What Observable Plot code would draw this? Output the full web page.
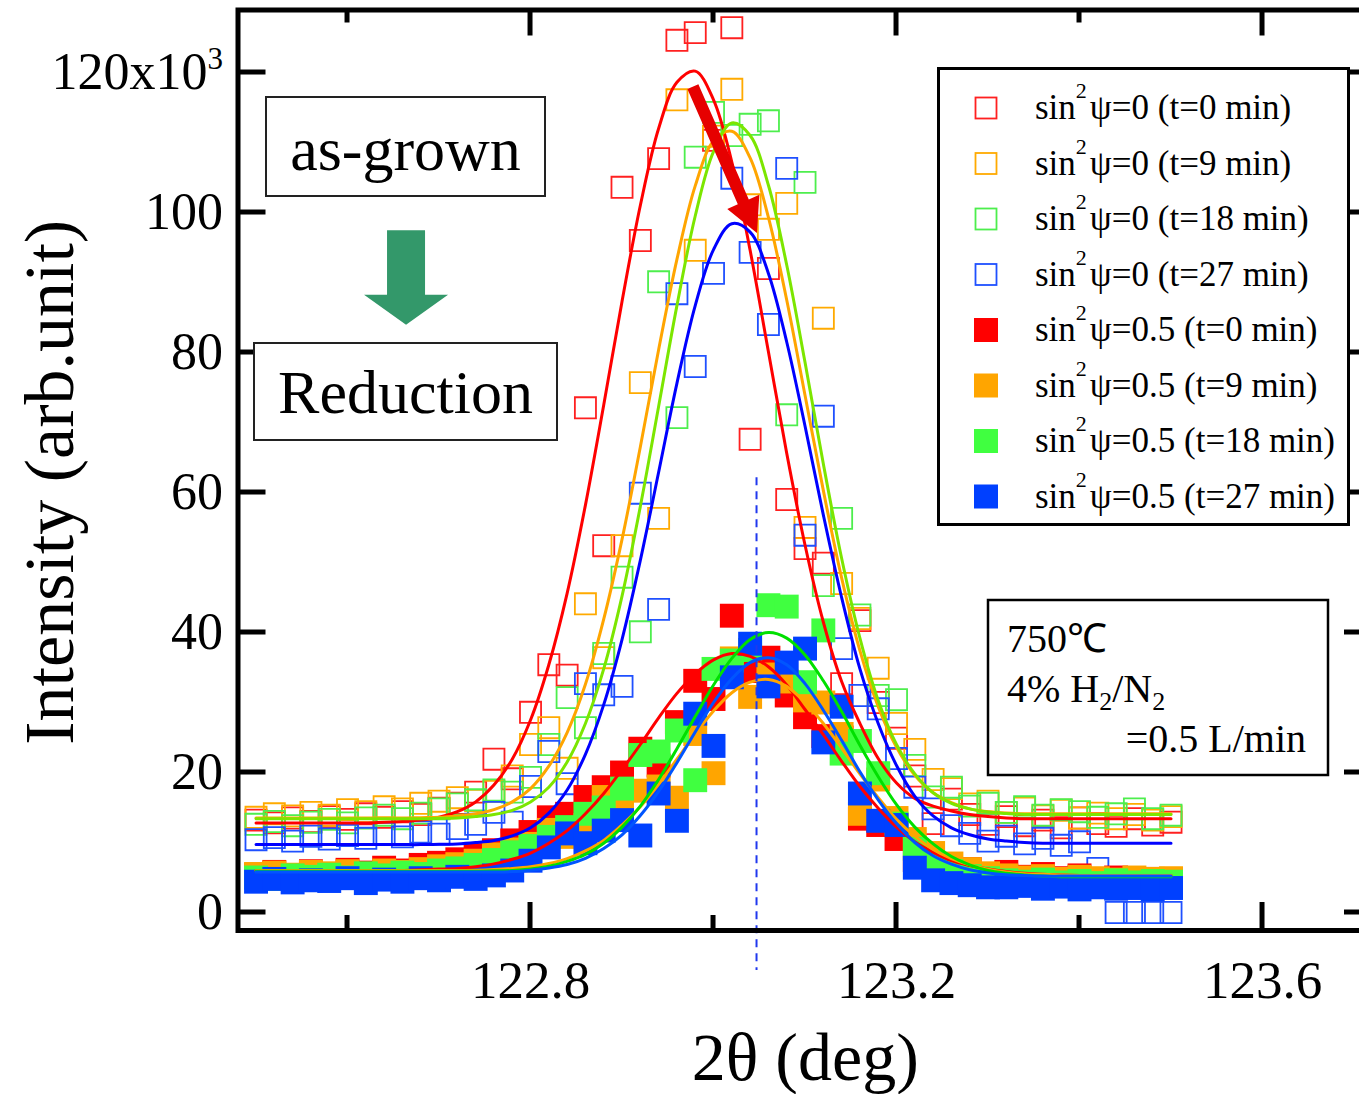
<!DOCTYPE html>
<html>
<head>
<meta charset="utf-8">
<script src="https://cdn.jsdelivr.net/npm/d3@7"></script>
<script src="https://cdn.jsdelivr.net/npm/@observablehq/plot@0.6"></script>
<style>
  html, body { margin: 0; padding: 0; background: #fff; overflow: hidden; }
  #wrap { position: relative; width: 1359px; height: 1094px; overflow: hidden; }
  #wrap svg { display: block; max-width: none; }
</style>
</head>
<body>
<div id="wrap"></div>
<script>
// ---------- data ----------
const twoTheta = [122.50,122.52,122.54,122.56,122.58,122.60,122.62,122.64,122.66,122.68,122.70,122.72,122.74,122.76,122.78,122.80,122.82,122.84,122.86,122.88,122.90,122.92,122.94,122.96,122.98,123.00,123.02,123.04,123.06,123.08,123.10,123.12,123.14,123.16,123.18,123.20,123.22,123.24,123.26,123.28,123.30,123.32,123.34,123.36,123.38,123.40,123.42,123.44,123.46,123.48,123.50];

// measured intensities (x10^3), sin^2 psi = 0
const openRed0 = [13.2,12.8,13.5,13.0,13.7,13.3,14.1,13.6,14.4,14.0,14.9,15.6,17.2,21.9,19.1,28.6,35.4,33.9,72.1,52.4,103.6,96.0,107.7,124.6,125.7,110.3,126.4,67.6,92.0,59.0,52.0,49.9,32.7,41.7,30.0,24.9,19.5,12.7,16.2,14.0,12.6,13.7,12.4,13.2,12.1,13.5,12.7,12.3,13.4,12.5,12.9];
const openOrange9 = [13.6,14.1,13.8,14.3,13.9,14.7,14.4,15.1,14.8,15.6,15.9,16.4,16.0,17.3,19.5,24.0,26.4,20.6,44.1,36.4,52.4,75.7,56.3,116.1,94.6,110.9,117.6,101.1,97.6,101.3,55.0,84.9,47.0,42.0,34.9,27.0,23.3,19.0,17.7,15.5,15.9,14.3,14.9,13.8,14.6,13.5,14.2,13.4,14.0,13.2,13.7];
const openGreen18 = [12.6,13.0,12.4,12.9,13.3,12.8,13.5,13.9,13.4,14.2,14.8,15.5,16.1,17.5,17.2,19.3,24.0,30.7,26.4,37.0,47.9,40.1,90.1,70.7,107.9,114.3,111.0,112.6,113.1,71.1,104.3,46.7,56.3,42.5,31.0,30.4,21.0,16.5,17.9,15.2,15.6,14.3,15.1,13.9,14.7,14.4,13.6,14.1,14.8,13.4,13.9];
const openBlue27 = [10.4,10.7,10.2,10.9,10.5,11.0,10.6,11.3,10.8,11.5,11.2,12.0,12.6,14.3,12.9,18.0,23.0,18.4,32.7,31.1,32.3,59.9,43.3,88.4,78.0,91.3,104.9,94.3,84.0,106.3,53.9,70.9,37.7,31.0,29.1,22.0,17.9,14.8,12.4,11.3,10.2,10.9,9.8,10.6,9.6,10.1,6.3,0,0,0,0];
// sin^2 psi = 0.5
const filledRed0 = [5.4,5.8,5.2,5.9,5.5,6.1,5.7,6.4,6.0,6.8,7.1,7.6,8.2,8.9,10.3,11.5,13.6,14.1,16.5,17.9,20.0,23.4,21.0,27.2,33.1,30.5,42.4,34.5,36.4,31.0,27.9,25.2,25.0,13.4,12.5,10.5,7.5,6.8,5.9,6.2,5.4,5.8,5.1,5.5,4.9,5.3,4.6,5.0,4.5,4.8,4.4];
const filledOrange9 = [5.5,5.7,5.4,5.8,5.6,5.9,5.5,6.0,5.8,6.2,6.6,6.9,7.4,8.3,9.0,9.8,11.8,10.8,12.5,16.5,15.0,17.4,18.0,16.4,25.5,19.9,36.3,30.8,34.0,33.0,30.3,30.0,25.5,14.1,19.0,13.5,10.5,8.5,7.0,6.2,5.6,5.3,5.0,5.2,4.8,5.1,4.9,4.7,5.0,4.8,4.9];
const filledGreen18 = [5.0,4.8,5.3,5.1,5.4,5.0,5.6,5.3,5.7,5.5,6.0,6.3,6.8,7.5,8.6,9.5,10.8,12.2,14.1,15.0,17.7,22.5,23.0,26.0,18.9,34.8,36.0,37.5,43.9,43.7,32.9,40.3,22.7,24.5,19.9,12.7,9.1,7.2,5.9,5.2,4.9,4.6,4.4,4.7,4.3,4.5,4.2,4.6,4.3,4.5,4.4];
const filledBlue27 = [4.4,4.8,4.3,4.6,4.5,4.9,4.2,4.7,4.4,4.9,4.6,5.1,4.8,5.3,6.0,7.4,9.3,11.3,9.9,11.7,13.2,11.0,17.0,13.1,28.4,23.8,33.6,38.4,32.3,35.7,37.7,24.3,29.4,17.0,13.1,12.5,6.4,4.6,4.2,3.9,3.6,3.6,3.8,3.4,3.7,3.3,3.6,3.4,3.5,3.3,3.5];

// fitted profiles (same 2theta grid)
const fitOpenRed0 = [12.8,12.8,12.8,12.8,12.8,12.8,12.8,12.9,13.0,13.2,13.6,14.4,15.8,18.2,21.9,27.5,35.4,45.6,58.2,72.5,87.3,101.0,112.0,118.6,120.2,116.1,107.2,94.6,80.1,65.6,52.5,41.5,33.0,27.0,22.0,18.5,16.3,15.2,14.5,14.0,13.7,13.5,13.4,13.4,13.4,13.4,13.4,13.4,13.4,13.4,13.4];
const fitOpenOrange9 = [13.5,13.5,13.5,13.5,13.5,13.5,13.5,13.5,13.5,13.55,13.6,13.8,14.1,14.7,15.8,17.7,20.9,25.7,32.6,41.9,53.3,66.5,80.4,93.3,103.8,110.2,111.6,107.8,99.3,87.5,73.9,60.3,47.8,37.4,29.4,23.6,19.6,17.1,15.7,14.8,14.4,14.2,14.1,14.1,14.1,14.1,14.1,14.1,14.1,14.1,14.1];
const fitOpenGreen18 = [13.4,13.4,13.4,13.4,13.4,13.4,13.4,13.4,13.4,13.4,13.45,13.5,13.7,14.0,14.6,15.8,17.9,21.5,27.0,34.8,45.2,58.0,72.3,86.7,99.5,108.7,112.8,111.0,103.9,92.5,78.6,64.1,50.6,39.2,30.3,24.0,19.8,17.1,15.6,14.8,14.35,14.15,14.0,14.0,14.0,14.0,14.0,14.0,14.0,14.0,14.0];
const fitOpenBlue27 = [9.7,9.7,9.7,9.7,9.7,9.7,9.7,9.7,9.7,9.7,9.75,9.8,10.0,10.3,10.95,12.1,14.2,17.5,22.6,29.7,39.0,50.3,62.9,75.6,86.7,94.7,98.4,97.2,91.3,81.5,69.5,56.8,45.0,34.8,27.0,21.0,16.6,13.8,12.1,11.1,10.5,10.2,10.0,9.9,9.9,9.9,9.9,9.9,9.9,9.9,9.9];
const fitFilledRed0 = [6.0,6.0,6.0,6.0,6.0,6.0,6.0,6.0,6.0,6.1,6.2,6.3,6.55,6.95,7.6,8.5,9.9,11.7,14.1,17.0,20.4,24.0,27.8,31.3,34.1,36.1,37.0,36.6,35.1,32.5,29.0,25.4,21.6,18.0,14.9,12.2,10.1,8.6,7.4,6.7,6.2,5.85,5.6,5.45,5.35,5.3,5.3,5.3,5.3,5.3,5.3];
const fitFilledOrange9 = [6.0,6.0,6.0,6.0,6.0,6.0,6.0,6.0,6.0,6.0,6.0,6.0,6.05,6.15,6.3,6.55,7.0,7.7,8.8,10.3,12.5,15.1,18.3,21.9,25.5,28.8,31.4,32.9,33.3,32.3,30.0,27.0,23.5,19.8,16.4,13.3,10.9,9.0,7.7,6.8,6.2,5.8,5.55,5.45,5.35,5.3,5.3,5.3,5.3,5.3,5.3];
const fitFilledGreen18 = [5.9,5.9,5.9,5.9,5.9,5.9,5.9,5.9,5.9,5.9,5.9,5.9,5.9,5.95,6.0,6.2,6.6,7.3,8.3,9.9,12.2,15.2,19.0,23.4,28.0,32.5,36.3,39.0,40.0,39.2,36.8,33.1,28.7,23.9,19.4,15.4,12.2,9.8,8.0,6.8,6.0,5.6,5.35,5.2,5.1,5.1,5.1,5.1,5.1,5.1,5.1];
const fitFilledBlue27 = [5.8,5.8,5.8,5.8,5.8,5.8,5.8,5.8,5.8,5.8,5.8,5.8,5.8,5.8,5.85,6.05,6.35,6.85,7.75,9.15,11.1,13.85,17.3,21.4,25.8,30.0,33.4,35.7,36.4,35.4,32.7,28.9,24.6,20.1,16.1,12.7,10.0,8.1,6.9,6.1,5.65,5.4,5.3,5.2,5.2,5.2,5.2,5.2,5.2,5.2,5.2];

const psiValues = ["0","0","0","0","0.5","0.5","0.5","0.5"];
const timeValues = ["0","9","18","27","0","9","18","27"];
const markerColors = ["#ff2020","#ffaa00","#4dee4d","#1f50ff","#ff0000","#ffa500","#40ff40","#0040ff"];
const curveColors = ["#ff0000","#ffa500","#7ce600","#0000ff","#ff0000","#ffa500","#00e000","#0055ff"];

const xMajorTicks = [122.8, 123.2, 123.6];
const xMinorTicks = [122.6, 123.0, 123.4];
const yTicks = [0, 20, 40, 60, 80, 100, 120];
const xDomain = [122.4803, 123.7202];
const yDomain = [-2.571, 128.93];

// annotations (data coordinates)
const dashLine = {x: 123.047, top: 62.1, bottom: -8.3};
const redArrow = {x1: 122.978, y1: 117.9, x2: 123.048, y2: 97.0};
const greenArrow = {x1: 122.6645, y1: 97.4, x2: 122.6645, y2: 83.9};

// ---------- build ----------
const pointArrays = [openRed0, openOrange9, openGreen18, openBlue27, filledRed0, filledOrange9, filledGreen18, filledBlue27];
const fitArrays = [fitOpenRed0, fitOpenOrange9, fitOpenGreen18, fitOpenBlue27, fitFilledRed0, fitFilledOrange9, fitFilledGreen18, fitFilledBlue27];
const toRows = arr => arr.map((v, i) => ({x: twoTheta[i], y: v}));

function blockArrow(a, color, shaft, headLen, wing) {
  return (index, scales) => {
    const {x, y} = scales;
    const x1 = x(a.x1), y1 = y(a.y1), x2 = x(a.x2), y2 = y(a.y2);
    const dx = x2 - x1, dy = y2 - y1, L = Math.hypot(dx, dy);
    const ux = dx / L, uy = dy / L, nx = -uy, ny = ux;
    const bx = x2 - ux * headLen, by = y2 - uy * headLen, s = shaft / 2;
    const pts = [[x1 + nx*s, y1 + ny*s], [bx + nx*s, by + ny*s], [bx + nx*wing, by + ny*wing], [x2, y2],
                 [bx - nx*wing, by - ny*wing], [bx - nx*s, by - ny*s], [x1 - nx*s, y1 - ny*s]];
    return d3.create("svg:polygon").attr("points", pts.map(p => p.join(",")).join(" ")).attr("fill", color).node();
  };
}

function frameTicks(index, scales) {
  const {x, y} = scales;
  const g = d3.create("svg:g").attr("stroke", "black").attr("stroke-width", 5);
  const yb = y(yDomain[0]), yt = y(yDomain[1]), xl = x(xDomain[0]), xr = x(xDomain[1]);
  const line = (a, b, c, d) => g.append("line").attr("x1", a).attr("y1", b).attr("x2", c).attr("y2", d);
  for (const v of xMajorTicks) { line(x(v), yb, x(v), yb - 28); line(x(v), yt, x(v), yt + 26); }
  for (const v of xMinorTicks) { line(x(v), yb, x(v), yb - 15); line(x(v), yt, x(v), yt + 13); }
  for (const v of yTicks) { line(xl, y(v), xl + 28, y(v)); line(xr - 28, y(v), xr, y(v)); }
  return g.node();
}

const marks = [];
pointArrays.forEach((arr, k) => {
  const filled = k >= 4;
  marks.push(Plot.dot(toRows(arr), {
    x: "x", y: "y", symbol: "square",
    r: filled ? 13.5 : 11.9,
    fill: filled ? markerColors[k] : "none",
    stroke: filled ? "none" : markerColors[k],
    strokeWidth: filled ? 0 : 1.8
  }));
});
fitArrays.forEach((arr, k) => {
  marks.push(Plot.line(toRows(arr), {x: "x", y: "y", stroke: curveColors[k], strokeWidth: 3, curve: "catmull-rom"}));
});
marks.push(Plot.ruleX([dashLine], {x: "x", y1: "top", y2: "bottom", stroke: "#2038ee", strokeWidth: 2, strokeDasharray: "8,6"}));
marks.push(blockArrow(redArrow, "#e60000", 12, 34, 17.5));
marks.push(blockArrow(greenArrow, "#33986a", 38, 30, 42));
marks.push(Plot.frame({stroke: "black", strokeWidth: 5}));
marks.push(frameTicks);
marks.push(Plot.axisY({ticks: yTicks, tickSize: 0, tickPadding: 15, fontSize: 52, label: null,
  tickFormat: d => d === 120 ? "120x10" : String(d)}));
marks.push(Plot.axisX({ticks: xMajorTicks, tickSize: 0, tickPadding: 30, fontSize: 53, label: null,
  tickFormat: d => d.toFixed(1)}));
marks.push(Plot.text(["2θ (deg)"], {frameAnchor: "bottom", dy: 149, fontSize: 68, lineAnchor: "bottom", textAnchor: "middle"}));
marks.push(Plot.text(["Intensity (arb.unit)"], {frameAnchor: "left", dx: -165.5, dy: 12, rotate: -90, fontSize: 70, lineAnchor: "bottom", textAnchor: "middle"}));

const chart = Plot.plot({
  width: 1359, height: 1094,
  marginLeft: 237.5, marginRight: -13, marginTop: 9.5, marginBottom: 164,
  x: {domain: xDomain},
  y: {domain: yDomain},
  style: {fontFamily: "'Liberation Serif', 'Times New Roman', serif", background: "white", color: "black", maxWidth: "none"},
  marks
});

const svg = d3.select(chart);
// superscript exponent on the top y tick label
svg.selectAll("text").each(function() {
  if (this.textContent === "120x10") {
    d3.select(this).append("tspan").attr("font-size", 31).attr("dy", -20).text("3");
  }
});

// ---------- in-chart annotation boxes and legend ----------
const ann = svg.append("g")
  .attr("font-family", "'Liberation Serif', 'Times New Roman', serif")
  .attr("fill", "black")
  .attr("text-anchor", "start");

function box(x, y, w, h, sw, stroke) {
  ann.append("rect").attr("x", x).attr("y", y).attr("width", w).attr("height", h)
    .attr("fill", "white").attr("stroke", stroke).attr("stroke-width", sw);
}
box(266, 97, 279, 99, 2, "#222");
ann.append("text").attr("x", 405.5).attr("y", 170).attr("text-anchor", "middle").attr("font-size", 62).text("as-grown");
box(254, 343, 303, 97, 2, "#222");
ann.append("text").attr("x", 405.5).attr("y", 413).attr("text-anchor", "middle").attr("font-size", 62).text("Reduction");

// legend
box(938.5, 68.5, 410, 456, 3, "black");
psiValues.forEach((psi, k) => {
  const cy = 108 + 55.5 * k;
  const filled = k >= 4;
  if (filled) {
    ann.append("rect").attr("x", 974).attr("y", cy - 12).attr("width", 24).attr("height", 24).attr("fill", markerColors[k]);
  } else {
    ann.append("rect").attr("x", 975.5).attr("y", cy - 10.5).attr("width", 21).attr("height", 21)
      .attr("fill", "none").attr("stroke", markerColors[k]).attr("stroke-width", 1.8);
  }
  const t = ann.append("text").attr("x", 1035).attr("y", cy + 11).attr("font-size", 35).attr("text-anchor", "start");
  t.append("tspan").text("sin");
  t.append("tspan").attr("font-size", 22).attr("dy", -21).text("2");
  t.append("tspan").attr("font-size", 35).attr("dy", 21).attr("dx", 3).text(`ψ=${psi} (t=${timeValues[k]} min)`);
});

// conditions box
box(988, 600, 340, 175, 2.5, "black");
ann.append("text").attr("x", 1007).attr("y", 652).attr("font-size", 40).attr("text-anchor", "start").text("750℃");
const t2 = ann.append("text").attr("x", 1007).attr("y", 702).attr("font-size", 40).attr("text-anchor", "start");
t2.append("tspan").text("4% H");
t2.append("tspan").attr("font-size", 26).attr("dy", 8).text("2");
t2.append("tspan").attr("font-size", 40).attr("dy", -8).text("/N");
t2.append("tspan").attr("font-size", 26).attr("dy", 8).text("2");
ann.append("text").attr("x", 1306).attr("y", 752).attr("text-anchor", "end").attr("font-size", 40).text("=0.5 L/min");

document.getElementById("wrap").appendChild(chart);
</script>
</body>
</html>
